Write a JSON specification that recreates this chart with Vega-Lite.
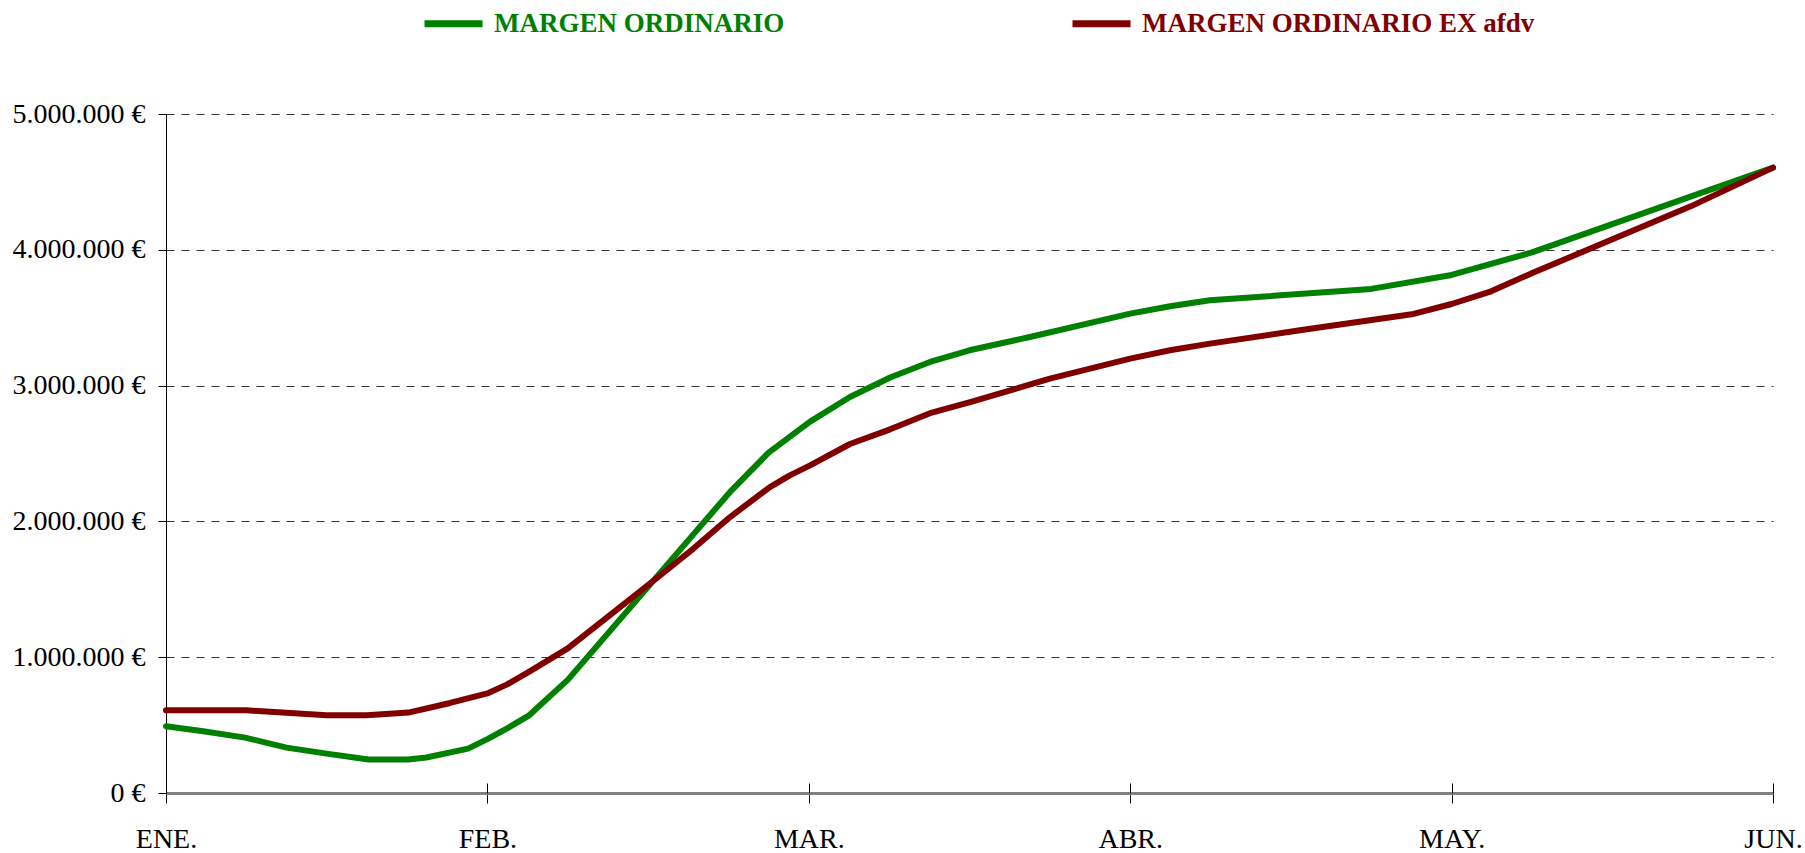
{
  "$schema": "https://vega.github.io/schema/vega-lite/v6.json",
  "width": 1607,
  "height": 679,
  "autosize": {"type": "none"},
  "padding": {"left": 166, "top": 114, "right": 32, "bottom": 60},
  "background": "white",
  "config": {
    "view": {"stroke": null},
    "font": "Liberation Serif",
    "locale": {"number": {"decimal": ",", "thousands": ".", "grouping": [3], "currency": ["", " €"]}}
  },
  "data": {"values": [
    {"serie": "MARGEN ORDINARIO", "mes": 0.0, "valor": 491000},
    {"serie": "MARGEN ORDINARIO", "mes": 0.116, "valor": 454000},
    {"serie": "MARGEN ORDINARIO", "mes": 0.246, "valor": 408000},
    {"serie": "MARGEN ORDINARIO", "mes": 0.375, "valor": 334000},
    {"serie": "MARGEN ORDINARIO", "mes": 0.5, "valor": 290000},
    {"serie": "MARGEN ORDINARIO", "mes": 0.63, "valor": 246000},
    {"serie": "MARGEN ORDINARIO", "mes": 0.754, "valor": 246000},
    {"serie": "MARGEN ORDINARIO", "mes": 0.81, "valor": 261000},
    {"serie": "MARGEN ORDINARIO", "mes": 0.94, "valor": 327000},
    {"serie": "MARGEN ORDINARIO", "mes": 1.003, "valor": 400000},
    {"serie": "MARGEN ORDINARIO", "mes": 1.06, "valor": 474000},
    {"serie": "MARGEN ORDINARIO", "mes": 1.13, "valor": 572000},
    {"serie": "MARGEN ORDINARIO", "mes": 1.25, "valor": 833000},
    {"serie": "MARGEN ORDINARIO", "mes": 1.755, "valor": 2217000},
    {"serie": "MARGEN ORDINARIO", "mes": 1.874, "valor": 2504000},
    {"serie": "MARGEN ORDINARIO", "mes": 2.004, "valor": 2735000},
    {"serie": "MARGEN ORDINARIO", "mes": 2.128, "valor": 2916000},
    {"serie": "MARGEN ORDINARIO", "mes": 2.253, "valor": 3060000},
    {"serie": "MARGEN ORDINARIO", "mes": 2.377, "valor": 3174000},
    {"serie": "MARGEN ORDINARIO", "mes": 2.5, "valor": 3260000},
    {"serie": "MARGEN ORDINARIO", "mes": 2.688, "valor": 3358000},
    {"serie": "MARGEN ORDINARIO", "mes": 3.0, "valor": 3530000},
    {"serie": "MARGEN ORDINARIO", "mes": 3.124, "valor": 3584000},
    {"serie": "MARGEN ORDINARIO", "mes": 3.248, "valor": 3628000},
    {"serie": "MARGEN ORDINARIO", "mes": 3.75, "valor": 3712000},
    {"serie": "MARGEN ORDINARIO", "mes": 4.0, "valor": 3815000},
    {"serie": "MARGEN ORDINARIO", "mes": 4.25, "valor": 3981000},
    {"serie": "MARGEN ORDINARIO", "mes": 5.0, "valor": 4605000},
    {"serie": "MARGEN ORDINARIO EX afdv", "mes": 0.0, "valor": 609000},
    {"serie": "MARGEN ORDINARIO EX afdv", "mes": 0.25, "valor": 609000},
    {"serie": "MARGEN ORDINARIO EX afdv", "mes": 0.5, "valor": 572000},
    {"serie": "MARGEN ORDINARIO EX afdv", "mes": 0.624, "valor": 572000},
    {"serie": "MARGEN ORDINARIO EX afdv", "mes": 0.754, "valor": 592000},
    {"serie": "MARGEN ORDINARIO EX afdv", "mes": 0.884, "valor": 663000},
    {"serie": "MARGEN ORDINARIO EX afdv", "mes": 1.003, "valor": 736000},
    {"serie": "MARGEN ORDINARIO EX afdv", "mes": 1.06, "valor": 798000},
    {"serie": "MARGEN ORDINARIO EX afdv", "mes": 1.133, "valor": 898000},
    {"serie": "MARGEN ORDINARIO EX afdv", "mes": 1.25, "valor": 1065000},
    {"serie": "MARGEN ORDINARIO EX afdv", "mes": 1.4, "valor": 1345000},
    {"serie": "MARGEN ORDINARIO EX afdv", "mes": 1.547, "valor": 1620000},
    {"serie": "MARGEN ORDINARIO EX afdv", "mes": 1.641, "valor": 1800000},
    {"serie": "MARGEN ORDINARIO EX afdv", "mes": 1.755, "valor": 2032000},
    {"serie": "MARGEN ORDINARIO EX afdv", "mes": 1.879, "valor": 2253000},
    {"serie": "MARGEN ORDINARIO EX afdv", "mes": 1.941, "valor": 2339000},
    {"serie": "MARGEN ORDINARIO EX afdv", "mes": 2.004, "valor": 2413000},
    {"serie": "MARGEN ORDINARIO EX afdv", "mes": 2.128, "valor": 2570000},
    {"serie": "MARGEN ORDINARIO EX afdv", "mes": 2.253, "valor": 2678000},
    {"serie": "MARGEN ORDINARIO EX afdv", "mes": 2.377, "valor": 2797000},
    {"serie": "MARGEN ORDINARIO EX afdv", "mes": 2.502, "valor": 2879000},
    {"serie": "MARGEN ORDINARIO EX afdv", "mes": 2.75, "valor": 3051000},
    {"serie": "MARGEN ORDINARIO EX afdv", "mes": 3.0, "valor": 3199000},
    {"serie": "MARGEN ORDINARIO EX afdv", "mes": 3.124, "valor": 3260000},
    {"serie": "MARGEN ORDINARIO EX afdv", "mes": 3.248, "valor": 3309000},
    {"serie": "MARGEN ORDINARIO EX afdv", "mes": 3.528, "valor": 3407000},
    {"serie": "MARGEN ORDINARIO EX afdv", "mes": 3.876, "valor": 3525000},
    {"serie": "MARGEN ORDINARIO EX afdv", "mes": 4.0, "valor": 3601000},
    {"serie": "MARGEN ORDINARIO EX afdv", "mes": 4.123, "valor": 3694000},
    {"serie": "MARGEN ORDINARIO EX afdv", "mes": 4.251, "valor": 3829000},
    {"serie": "MARGEN ORDINARIO EX afdv", "mes": 4.744, "valor": 4320000},
    {"serie": "MARGEN ORDINARIO EX afdv", "mes": 5.0, "valor": 4605000}
  ]},
  "resolve": {"axis": {"x": "independent"}},
  "layer": [
    {
      "mark": {"type": "line", "strokeWidth": 6, "strokeJoin": "round", "strokeCap": "round", "clip": false},
      "encoding": {
        "x": {
          "field": "mes", "type": "quantitative",
          "scale": {"domain": [0, 5], "nice": false, "zero": false},
          "axis": {
            "title": null, "values": [0, 1, 2, 3, 4, 5],
            "labelExpr": "['ENE.','FEB.','MAR.','ABR.','MAY.','JUN.'][datum.value]",
            "labelFlush": false, "labelOverlap": false,
            "labelFont": "Liberation Serif", "labelFontSize": 28, "labelColor": "#000000",
            "labelPadding": 22,
            "tickSize": 10, "tickColor": "#000000", "tickWidth": 1,
            "domainColor": "#808080", "domainWidth": 3,
            "grid": false
          }
        },
        "y": {
          "field": "valor", "type": "quantitative",
          "scale": {"domain": [0, 5000000], "nice": false},
          "axis": {
            "title": null, "values": [0, 1000000, 2000000, 3000000, 4000000, 5000000],
            "format": ",.0f",
            "labelExpr": "datum.label + ' €'",
            "labelFont": "Liberation Serif", "labelFontSize": 28, "labelColor": "#000000",
            "labelPadding": 13,
            "tickSize": 8, "tickColor": "#000000", "tickWidth": 1,
            "domainColor": "#000000", "domainWidth": 1,
            "grid": true, "gridColor": "#333333", "gridWidth": 1, "gridDash": [8, 7]
          }
        },
        "color": {
          "field": "serie", "type": "nominal",
          "scale": {"domain": ["MARGEN ORDINARIO", "MARGEN ORDINARIO EX afdv"], "range": ["#008000", "#800000"]},
          "legend": {
            "title": null, "orient": "none", "direction": "horizontal",
            "legendX": 255, "legendY": -123, "padding": 0,
            "symbolType": "stroke", "symbolSize": 3364, "symbolStrokeWidth": 7,
            "labelFont": "Liberation Serif", "labelFontSize": 27, "labelFontWeight": "bold",
            "labelOffset": 8, "labelLimit": 600, "columnPadding": 273,
            "labelColor": {"expr": "datum.label == 'MARGEN ORDINARIO' ? '#008000' : '#800000'"}
          }
        }
      }
    },
    {
      "mark": {"type": "line", "strokeOpacity": 0},
      "encoding": {
        "x": {
          "field": "mes", "type": "quantitative",
          "axis": {"orient": "bottom", "title": null, "values": [0, 1, 2, 3, 4, 5], "labels": false, "domain": false, "grid": false, "tickSize": -10, "tickColor": "#000000", "tickWidth": 1}
        },
        "y": {"field": "valor", "type": "quantitative"},
        "detail": {"field": "serie"}
      }
    }
  ]
}
